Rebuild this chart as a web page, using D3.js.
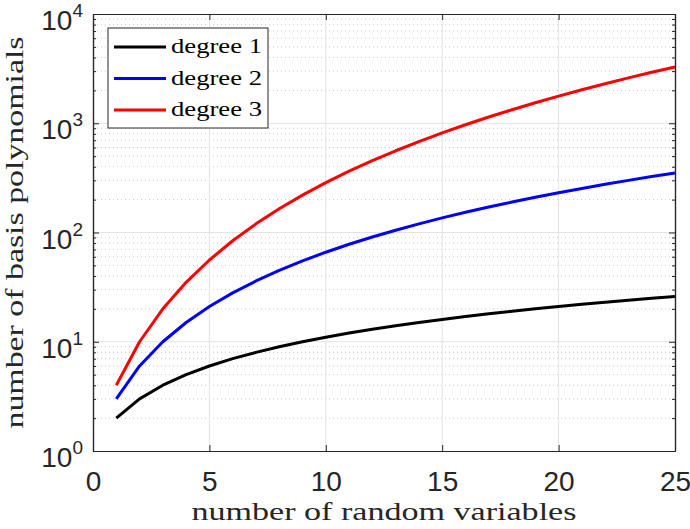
<!DOCTYPE html>
<html><head><meta charset="utf-8">
<script src="https://cdn.jsdelivr.net/npm/d3@7"></script>
<style>body{margin:0;background:#fff}svg{display:block}</style>
</head><body><svg id="c" width="690" height="529"></svg>
<script>
const nVars = [1,2,3,4,5,6,7,8,9,10,11,12,13,14,15,16,17,18,19,20,21,22,23,24,25];
const degree1 = [2,3,4,5,6,7,8,9,10,11,12,13,14,15,16,17,18,19,20,21,22,23,24,25,26];
const degree2 = [3,6,10,15,21,28,36,45,55,66,78,91,105,120,136,153,171,190,210,231,253,276,300,325,351];
const degree3 = [4,10,20,35,56,84,120,165,220,286,364,455,560,680,816,969,1140,1330,1540,1771,2024,2300,2600,2925,3276];
const seriesNames = ["degree 1","degree 2","degree 3"];
const seriesColors = ["#000000","#0000ff","#ff0000"];
const xTicks = [0,5,10,15,20,25];
const yTicks = [1,10,100,1000,10000];

const svg = d3.select("#c");
const L=93, R=675, T=14, B=451;
const x = d3.scaleLinear().domain([0,25]).range([L,R]);
const y = d3.scaleLog().domain([1,10000]).range([B,T]);

// minor grid
const minors=[];
for(let d=1; d<10000; d*=10) for(let k=2;k<=9;k++) minors.push(d*k);
svg.append("g").selectAll("line").data(minors).join("line")
  .attr("x1",L).attr("x2",R).attr("y1",d=>y(d)).attr("y2",d=>y(d))
  .attr("stroke","#c8c8c8").attr("stroke-width",1).attr("stroke-dasharray","1,3");
// major grid
svg.append("g").selectAll("line").data(yTicks.slice(1,-1)).join("line")
  .attr("x1",L).attr("x2",R).attr("y1",d=>y(d)).attr("y2",d=>y(d))
  .attr("stroke","#e3e3e3").attr("stroke-width",1);
svg.append("g").selectAll("line").data(xTicks.slice(1,-1)).join("line")
  .attr("y1",T).attr("y2",B).attr("x1",d=>x(d)).attr("x2",d=>x(d))
  .attr("stroke","#e3e3e3").attr("stroke-width",1);

// lines
const all=[degree1,degree2,degree3];
const line=d3.line().x((d,i)=>x(nVars[i])).y(d=>y(d));
all.forEach((s,i)=>{
  svg.append("path").datum(s).attr("d",line).attr("fill","none")
    .attr("stroke",seriesColors[i]).attr("stroke-width",3).attr("stroke-linejoin","round");
});

// axes
const axCol="#262626";
const tickFont="Liberation Sans, Arial, Helvetica, sans-serif";
const xb=svg.append("g").attr("transform",`translate(0,${B})`)
  .call(d3.axisBottom(x).tickValues(xTicks).tickSizeInner(-6).tickSizeOuter(0));
const xt=svg.append("g").attr("transform",`translate(0,${T})`)
  .call(d3.axisTop(x).tickValues(xTicks).tickSizeInner(-6).tickSizeOuter(0).tickFormat(""));
const yl=svg.append("g").attr("transform",`translate(${L},0)`)
  .call(d3.axisLeft(y).tickValues(yTicks).tickSizeInner(-6).tickSizeOuter(0).tickFormat(""));
const yr=svg.append("g").attr("transform",`translate(${R},0)`)
  .call(d3.axisRight(y).tickValues(yTicks).tickSizeInner(-6).tickSizeOuter(0).tickFormat(""));
const ylm=svg.append("g").attr("transform",`translate(${L},0)`)
  .call(d3.axisLeft(y).tickValues(minors).tickSizeInner(-3).tickSizeOuter(0).tickFormat(""));
const yrm=svg.append("g").attr("transform",`translate(${R},0)`)
  .call(d3.axisRight(y).tickValues(minors).tickSizeInner(-3).tickSizeOuter(0).tickFormat(""));
[xb,xt,yl,yr,ylm,yrm].forEach(g=>{
  g.select(".domain").attr("stroke",axCol).attr("stroke-width",1.2);
  g.selectAll(".tick line").attr("stroke",axCol).attr("stroke-width",1);
});
xb.selectAll(".tick text").attr("fill",axCol).style("font-family",tickFont).style("font-size","28px")
  .attr("y",40).attr("dy",0);

// y tick labels with superscript
yTicks.forEach(v=>{
  const t=svg.append("text").attr("x",L-10).attr("y",y(v)+16).attr("text-anchor","end")
    .attr("fill",axCol).style("font-family",tickFont).style("font-size","28px");
  t.append("tspan").text("10");
  t.append("tspan").attr("dy",-13).style("font-size","19px").text(Math.round(Math.log10(v)));
});

// axis labels
const serif="Liberation Serif, Times New Roman, serif";
svg.append("text").attr("x",(L+R)/2).attr("y",520).attr("text-anchor","middle")
  .attr("textLength",385).attr("lengthAdjust","spacingAndGlyphs")
  .attr("fill",axCol).style("font-family",serif).style("font-size","26px").text("number of random variables");
svg.append("text").attr("transform",`translate(23,${(T+B)/2}) rotate(-90)`).attr("text-anchor","middle")
  .attr("textLength",392).attr("lengthAdjust","spacingAndGlyphs")
  .attr("fill",axCol).style("font-family",serif).style("font-size","25px").text("number of basis polynomials");

// legend
const lg=svg.append("g");
lg.append("rect").attr("x",108).attr("y",28).attr("width",160).attr("height",100)
  .attr("fill","#fff").attr("stroke",axCol).attr("stroke-width",1);
seriesNames.forEach((n,i)=>{
  const yy=47+i*31.5;
  lg.append("line").attr("x1",114).attr("x2",166).attr("y1",yy).attr("y2",yy)
    .attr("stroke",seriesColors[i]).attr("stroke-width",3);
  lg.append("text").attr("x",171).attr("y",yy+6).attr("fill","#000")
    .attr("textLength",91).attr("lengthAdjust","spacingAndGlyphs")
    .style("font-family",serif).style("font-size","22px").text(n);
});
</script></body></html>
